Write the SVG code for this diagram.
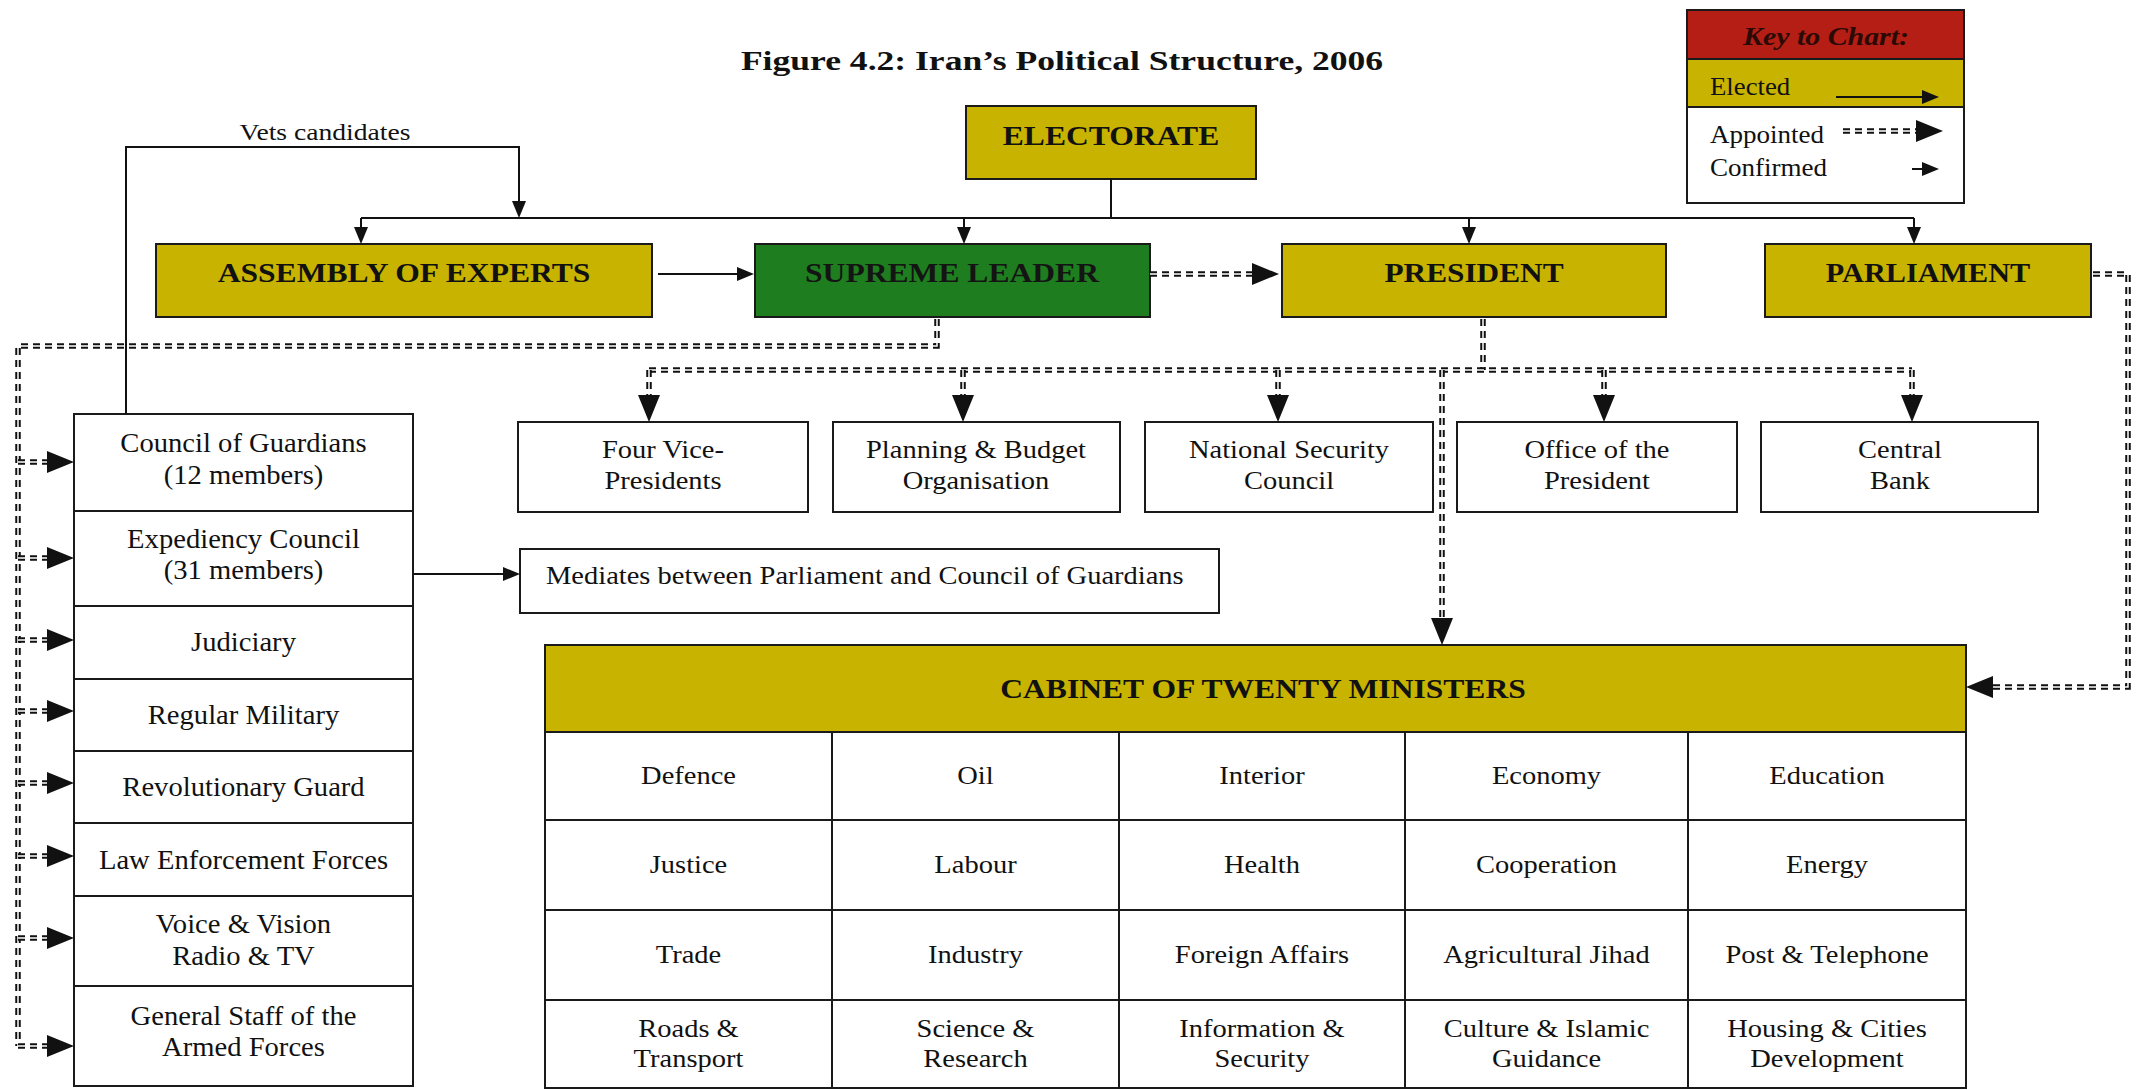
<svg xmlns="http://www.w3.org/2000/svg" width="2139" height="1090" viewBox="0 0 2139 1090">
<style>
.bg{fill:#fff}
.box{fill:#fff;stroke:#1a1a1a;stroke-width:2}
.ol{fill:#c8b400;stroke:#1a1a1a;stroke-width:2}
.gr{fill:#1e7d1e;stroke:#1a1a1a;stroke-width:2}
.rd{fill:#b41e14;stroke:#1a1a1a;stroke-width:2}
.ln{stroke:#1a1a1a;stroke-width:2;fill:none}
.t{font-family:"Liberation Serif","Times New Roman",serif;font-size:25px;fill:#111;text-anchor:middle}
.lt{font-size:27px}
.b{font-weight:bold;font-size:27px}
.st{text-anchor:start}
.el{stroke:#111;stroke-width:2;fill:none}
.ap{stroke:#111;stroke-width:5.5;stroke-dasharray:7 5;fill:none}
.apw{stroke:#fff;stroke-width:1.5;stroke-dasharray:7 5;fill:none}
</style>
<defs>
<marker id="ms" markerUnits="userSpaceOnUse" markerWidth="17" markerHeight="14" refX="0" refY="7" orient="auto" overflow="visible"><path d="M0,0 L17,7 L0,14 z" fill="#111"/></marker>
<marker id="mb" markerUnits="userSpaceOnUse" markerWidth="27" markerHeight="22" refX="0" refY="11" orient="auto" overflow="visible"><path d="M0,0 L27,11 L0,22 z" fill="#111"/></marker>
</defs>
<rect class="bg" x="0" y="0" width="2139" height="1090"/>

<g id="title"><text class="t b" transform="matrix(1.27 0 0 1 1062 70)" style="font-size:28px">Figure 4.2: Iran’s Political Structure, 2006</text></g>

<g id="key">
<rect class="rd" x="1687" y="10" width="277" height="49"/>
<rect class="ol" x="1687" y="59" width="277" height="48"/>
<rect class="box" x="1687" y="107" width="277" height="96"/>
<text class="t b" transform="matrix(1.15 0 0 1 1826 45)" style="font-style:italic;font-size:26px;fill:#2b0a05">Key to Chart:</text>
<text class="t st" transform="matrix(1.03 0 0 1 1710 95)" style="font-size:26px">Elected</text>
<text class="t st" transform="matrix(1.04 0 0 1 1710 143)" style="font-size:26px">Appointed</text>
<text class="t st" transform="matrix(1.04 0 0 1 1710 176)" style="font-size:26px">Confirmed</text>
<path class="el" d="M1836,97 H1922" marker-end="url(#ms)"/>
<path class="ap" d="M1843,131 H1916" marker-end="url(#mb)"/>
<path class="apw" d="M1843,131 H1916"/>
<path class="el" d="M1912,169 H1922" marker-end="url(#ms)"/>
</g>

<g id="electorate"><rect class="ol" x="966" y="106" width="290" height="73"/><text class="t b" transform="matrix(1.17 0 0 1 1111 145)">ELECTORATE</text></g>
<g id="assembly"><rect class="ol" x="156" y="244" width="496" height="73"/><text class="t b" transform="matrix(1.17 0 0 1 404 282)">ASSEMBLY OF EXPERTS</text></g>
<g id="supreme-leader"><rect class="gr" x="755" y="244" width="395" height="73"/><text class="t b" transform="matrix(1.17 0 0 1 952 282)" style="fill:#141414">SUPREME LEADER</text></g>
<g id="president"><rect class="ol" x="1282" y="244" width="384" height="73"/><text class="t b" transform="matrix(1.16 0 0 1 1474 282)">PRESIDENT</text></g>
<g id="parliament"><rect class="ol" x="1765" y="244" width="326" height="73"/><text class="t b" transform="matrix(1.12 0 0 1 1928 282)">PARLIAMENT</text></g>

<g id="four-vice"><rect class="box" x="518" y="422" width="290" height="90"/><text class="t" transform="matrix(1.14 0 0 1 663 458)"><tspan x="0">Four Vice-</tspan><tspan x="0" dy="31">Presidents</tspan></text></g>
<g id="planning"><rect class="box" x="833" y="422" width="287" height="90"/><text class="t" transform="matrix(1.14 0 0 1 976 458)"><tspan x="0">Planning &amp; Budget</tspan><tspan x="0" dy="31">Organisation</tspan></text></g>
<g id="nsc"><rect class="box" x="1145" y="422" width="288" height="90"/><text class="t" transform="matrix(1.14 0 0 1 1289 458)"><tspan x="0">National Security</tspan><tspan x="0" dy="31">Council</tspan></text></g>
<g id="office"><rect class="box" x="1457" y="422" width="280" height="90"/><text class="t" transform="matrix(1.14 0 0 1 1597 458)"><tspan x="0">Office of the</tspan><tspan x="0" dy="31">President</tspan></text></g>
<g id="central-bank"><rect class="box" x="1761" y="422" width="277" height="90"/><text class="t" transform="matrix(1.14 0 0 1 1900 458)"><tspan x="0">Central</tspan><tspan x="0" dy="31">Bank</tspan></text></g>

<g id="mediates"><rect class="box" x="520" y="549" width="699" height="64"/><text class="t st" transform="matrix(1.14 0 0 1 546 584)">Mediates between Parliament and Council of Guardians</text></g>

<g id="left-column">
<rect class="box" x="74" y="414" width="339" height="97"/>
<rect class="box" x="74" y="511" width="339" height="95"/>
<rect class="box" x="74" y="606" width="339" height="73"/>
<rect class="box" x="74" y="679" width="339" height="72"/>
<rect class="box" x="74" y="751" width="339" height="72"/>
<rect class="box" x="74" y="823" width="339" height="73"/>
<rect class="box" x="74" y="896" width="339" height="90"/>
<rect class="box" x="74" y="986" width="339" height="100"/>
<g class="t lt">
<text transform="matrix(1.06 0 0 1 243.5 452)"><tspan x="0">Council of Guardians</tspan><tspan x="0" dy="32">(12 members)</tspan></text>
<text transform="matrix(1.06 0 0 1 243.5 548)"><tspan x="0">Expediency Council</tspan><tspan x="0" dy="31">(31 members)</tspan></text>
<text transform="matrix(1.06 0 0 1 243.5 651)">Judiciary</text>
<text transform="matrix(1.06 0 0 1 243.5 724)">Regular Military</text>
<text transform="matrix(1.06 0 0 1 243.5 796)">Revolutionary Guard</text>
<text transform="matrix(1.06 0 0 1 243.5 869)">Law Enforcement Forces</text>
<text transform="matrix(1.06 0 0 1 243.5 933)"><tspan x="0">Voice &amp; Vision</tspan><tspan x="0" dy="32">Radio &amp; TV</tspan></text>
<text transform="matrix(1.06 0 0 1 243.5 1025)"><tspan x="0">General Staff of the</tspan><tspan x="0" dy="31">Armed Forces</tspan></text>
</g>
</g>

<g id="cabinet">
<rect class="ol" x="545" y="645" width="1421" height="87"/>
<rect class="box" x="545" y="732" width="1421" height="356"/>
<path class="ln" d="M545,820 H1966 M545,910 H1966 M545,1000 H1966 M832,732 V1088 M1119,732 V1088 M1405,732 V1088 M1688,732 V1088"/>
<text class="t b" transform="matrix(1.17 0 0 1 1263 698)">CABINET OF TWENTY MINISTERS</text>
<g class="t">
<text transform="matrix(1.14 0 0 1 688.5 784)">Defence</text>
<text transform="matrix(1.14 0 0 1 975.5 784)">Oil</text>
<text transform="matrix(1.14 0 0 1 1262 784)">Interior</text>
<text transform="matrix(1.14 0 0 1 1546.5 784)">Economy</text>
<text transform="matrix(1.14 0 0 1 1827 784)">Education</text>
<text transform="matrix(1.14 0 0 1 688.5 873)">Justice</text>
<text transform="matrix(1.14 0 0 1 975.5 873)">Labour</text>
<text transform="matrix(1.14 0 0 1 1262 873)">Health</text>
<text transform="matrix(1.14 0 0 1 1546.5 873)">Cooperation</text>
<text transform="matrix(1.14 0 0 1 1827 873)">Energy</text>
<text transform="matrix(1.14 0 0 1 688.5 963)">Trade</text>
<text transform="matrix(1.14 0 0 1 975.5 963)">Industry</text>
<text transform="matrix(1.14 0 0 1 1262 963)">Foreign Affairs</text>
<text transform="matrix(1.14 0 0 1 1546.5 963)">Agricultural Jihad</text>
<text transform="matrix(1.14 0 0 1 1827 963)">Post &amp; Telephone</text>
<text transform="matrix(1.14 0 0 1 688.5 1037)"><tspan x="0">Roads &amp;</tspan><tspan x="0" dy="30">Transport</tspan></text>
<text transform="matrix(1.14 0 0 1 975.5 1037)"><tspan x="0">Science &amp;</tspan><tspan x="0" dy="30">Research</tspan></text>
<text transform="matrix(1.14 0 0 1 1262 1037)"><tspan x="0">Information &amp;</tspan><tspan x="0" dy="30">Security</tspan></text>
<text transform="matrix(1.14 0 0 1 1546.5 1037)"><tspan x="0">Culture &amp; Islamic</tspan><tspan x="0" dy="30">Guidance</tspan></text>
<text transform="matrix(1.14 0 0 1 1827 1037)"><tspan x="0">Housing &amp; Cities</tspan><tspan x="0" dy="30">Development</tspan></text>
</g>
</g>

<g id="connectors">
<text class="t" transform="matrix(1.2 0 0 1 325 140)" style="font-size:23px">Vets candidates</text>
<path class="el" d="M126,414 V147 H519 V201" marker-end="url(#ms)"/>
<path class="el" d="M1111,179 V218 M361,218 H1914"/>
<path class="el" d="M361,218 V227" marker-end="url(#ms)"/>
<path class="el" d="M964,218 V227" marker-end="url(#ms)"/>
<path class="el" d="M1469,218 V227" marker-end="url(#ms)"/>
<path class="el" d="M1914,218 V227" marker-end="url(#ms)"/>
<path class="el" d="M658,274 H737" marker-end="url(#ms)"/>
<path class="el" d="M414,574 H503" marker-end="url(#ms)"/>

<g id="appointed">
<path class="ap" d="M1150,274 H1252" marker-end="url(#mb)"/>
<path class="apw" d="M1150,274 H1252"/>
<path class="ap" d="M937,319 V346 H18 V1046"/>
<path class="apw" d="M937,319 V346 H18 V1046"/>
<path class="ap" d="M1483,319 V370"/>
<path class="apw" d="M1483,319 V370"/>
<path class="ap" d="M649,370 H1912"/>
<path class="apw" d="M649,370 H1912"/>
<path class="ap" d="M2093,274 H2128 V687 H1993" marker-end="url(#mb)"/>
<path class="apw" d="M2093,274 H2128 V687 H1993"/>
<g>
<path class="ap" d="M649,370 V395" marker-end="url(#mb)"/>
<path class="ap" d="M963,370 V395" marker-end="url(#mb)"/>
<path class="ap" d="M1278,370 V395" marker-end="url(#mb)"/>
<path class="ap" d="M1604,370 V395" marker-end="url(#mb)"/>
<path class="ap" d="M1912,370 V395" marker-end="url(#mb)"/>
<path class="ap" d="M1442,370 V618" marker-end="url(#mb)"/>
<path class="apw" d="M649,370 V395 M963,370 V395 M1278,370 V395 M1604,370 V395 M1912,370 V395 M1442,370 V618"/>
</g>
<g>
<path class="ap" d="M18,462 H47" marker-end="url(#mb)"/>
<path class="ap" d="M18,558 H47" marker-end="url(#mb)"/>
<path class="ap" d="M18,640 H47" marker-end="url(#mb)"/>
<path class="ap" d="M18,711 H47" marker-end="url(#mb)"/>
<path class="ap" d="M18,783 H47" marker-end="url(#mb)"/>
<path class="ap" d="M18,856 H47" marker-end="url(#mb)"/>
<path class="ap" d="M18,938 H47" marker-end="url(#mb)"/>
<path class="ap" d="M18,1046 H47" marker-end="url(#mb)"/>
<path class="apw" d="M18,462 H47 M18,558 H47 M18,640 H47 M18,711 H47 M18,783 H47 M18,856 H47 M18,938 H47 M18,1046 H47"/>
</g>
</g>
</g>
</svg>
